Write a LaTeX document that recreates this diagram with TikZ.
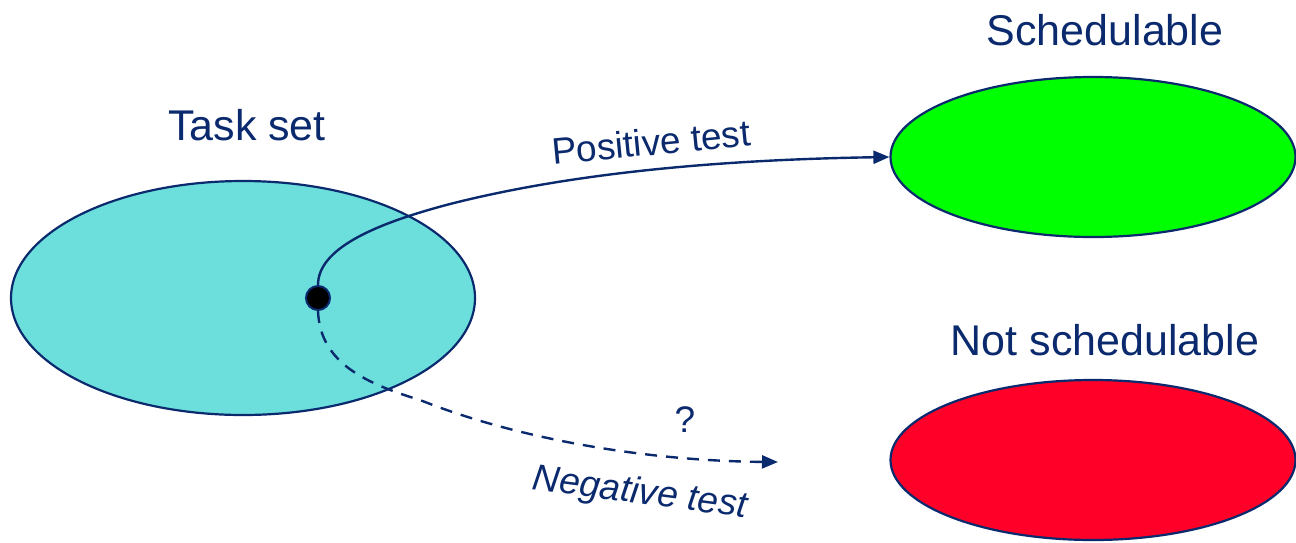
\documentclass[tikz,border=0pt]{standalone}
\usepackage{fontspec}
\setmainfont{Liberation Sans}
\usetikzlibrary{shapes.geometric,arrows.meta}
\definecolor{navy}{HTML}{0B2A6E}
\definecolor{tcyan}{HTML}{6CDEDC}
\definecolor{sgreen}{HTML}{00FF00}
\definecolor{sred}{HTML}{FF0028}
\begin{document}
\begin{tikzpicture}[x=1pt,y=-1pt,
  blob/.style={ellipse,draw=navy,line width=2.2pt,inner sep=0pt},
  lbl/.style={text=navy,font=\fontsize{43}{48}\selectfont,inner sep=0pt},
  small/.style={text=navy,font=\fontsize{37}{42}\selectfont,inner sep=0pt},
  conn/.style={navy,line width=2.4pt,-{Triangle[length=16pt,width=13pt]}}]
\useasboundingbox (0,0) rectangle (1296,542);
\node[blob,fill=tcyan,minimum width=464pt,minimum height=234pt] (ts) at (243,298) {};
\node[blob,fill=sgreen,minimum width=405pt,minimum height=160pt] (sch) at (1093,157) {};
\node[blob,fill=sred,minimum width=405pt,minimum height=160pt] (ns) at (1093,460) {};
\node[lbl] (tsl) at (247,125) {Task set};
\node[lbl] (schl) at (1105,30) {Schedulable};
\node[lbl] (nsl) at (1105,340) {Not schedulable};
\node[circle,fill=black,draw=navy,line width=2pt,minimum size=24pt,inner sep=0pt] (dot) at (318,298) {};
\coordinate (neg) at (778,462);
\draw[conn] (dot.north) .. controls (318,250) and (370,225) .. (450,204) .. controls (560,176) and (700,160) .. (sch.west);
\draw[conn,dashed,dash pattern=on 12pt off 9pt] (dot.south) .. controls (320,360) and (360,382) .. (420,400) .. controls (520,440) and (650,461) .. (neg);
\node[small,rotate=5.5] (pt) at (651,142) {Positive test};
\node[small] (q) at (685,420) {?};
\node[small,rotate=-7.5,font=\fontsize{37}{42}\selectfont\itshape] (nt) at (640,494) {Negative test};
\end{tikzpicture}
\end{document}
